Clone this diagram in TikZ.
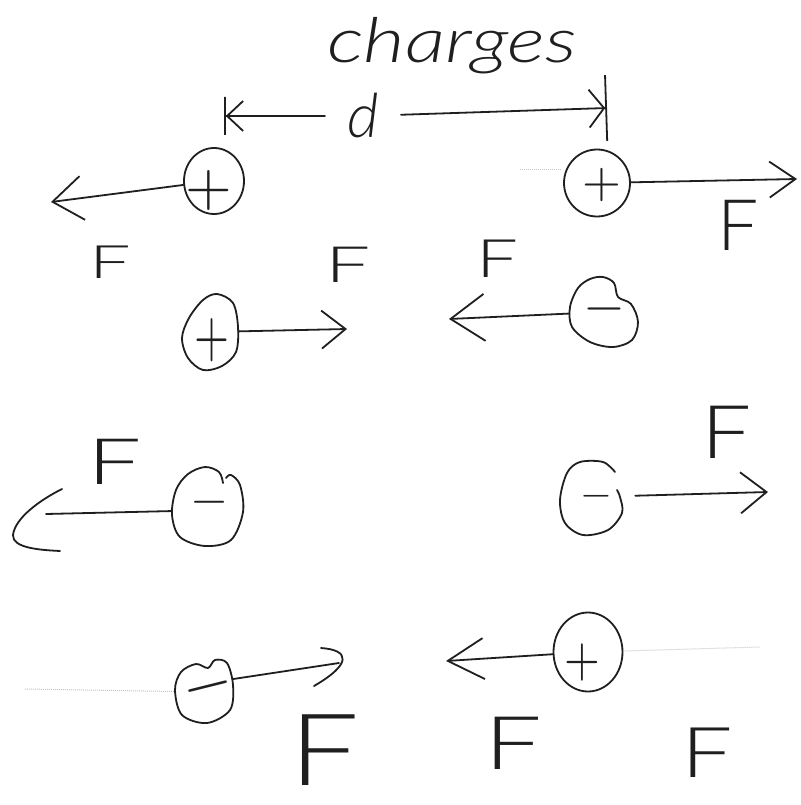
\documentclass[tikz,border=0pt]{standalone}
\usepackage{fontspec}
\IfFontExistsTF{Lato Light}{\newfontfamily\handfont{Lato Light}}{\newfontfamily\handfont{Lato}}
\usetikzlibrary{arrows.meta,shapes.geometric}
\definecolor{inkc}{gray}{0.12}
\tikzset{
  ink/.style={draw=inkc, line width=1.8pt, line cap=round, line join=round},
  charge/.style={ellipse, inner sep=0pt, ink},
  spot/.style={ellipse, inner sep=0pt},
  sign/.style={inner sep=0pt, text=inkc},
  force/.style 2 args={ink, -{Straight Barb[length=#1pt,width=#2pt]}},
  dimleft/.style={ink, -{Straight Barb[length=16pt,width=30pt]Bar[width=38pt]}},
  dimright/.style={ink, -{Straight Barb[length=15pt,width=38pt]Bar[width=66pt]}},
  flabel/.style={inner sep=0pt, text=inkc, font=\handfont\fontsize{#1}{#1}\selectfont},
  faint/.style={draw=gray!45, line width=1pt, densely dotted},
}
\begin{document}
\begin{tikzpicture}[x=1pt,y=-1pt]
\fill[white] (0,0) rectangle (800,805);
\useasboundingbox (0,0) rectangle (800,805);

% title and distance
\node[inner sep=0pt, anchor=base, text=inkc, font=\handfont\itshape\fontsize{62}{62}\selectfont] (title) at (452,63) {\scalebox{1.3}[1]{charges}};
\node[inner xsep=22pt, inner ysep=0pt, anchor=base, text=inkc, font=\handfont\itshape\fontsize{61}{61}\selectfont] (dlab) at (363,138) {d};
\coordinate (dL) at (224,116);
\coordinate (dR) at (607,108);
\draw[dimleft] (dlab) -- (dL);
\draw[dimright] (dlab) -- (dR);

% row 1
\node[charge, minimum width=60pt, minimum height=66pt] (qA) at (214,181) {};
\node[sign] (sA) at (209,190) {\scalebox{6}{$+$}};
\coordinate (tA) at (51,202);
\draw[force={30}{44}] (qA) -- (tA);
\node[flabel=46] (F1) at (110,262) {\scalebox{1.6}[1]{F}};

\coordinate (fb1) at (520,170);
\coordinate (fb2) at (562,170);
\draw[faint] (fb1) -- (fb2);
\node[charge, minimum width=66pt, minimum height=67pt] (qB) at (597,183) {};
\node[sign] (sB) at (602,185) {\scalebox{5}{$+$}};
\coordinate (tB) at (797,179);
\draw[force={26}{36}] (qB) -- (tB);
\node[flabel=71] (F2) at (738,225) {\scalebox{1.03}[1]{F}};

% row 2
\node[spot, minimum width=56pt, minimum height=74pt] (qC) at (210,332) {};
\draw[ink] plot[smooth cycle, tension=0.55] coordinates {(217,294) (233,303) (238,327) (236,352) (222,366) (203,370) (188,358) (182,338) (189,318) (203,300)};
\node[sign] (sC) at (212,340) {\scalebox{4.5}[6.5]{$+$}};
\coordinate (tC) at (347,329);
\draw[force={24}{38}] (qC) -- (tC);
\node[flabel=50] (F3) at (348,265) {\scalebox{1.6}[1]{F}};

\node[spot, minimum width=69pt, minimum height=71pt] (qD) at (604,312) {};
\draw[ink] plot[smooth cycle, tension=0.55] coordinates {(603,277) (614,283) (618,297) (631,304) (638,322) (632,340) (613,347) (590,342) (572,327) (570,307) (578,288) (590,279)};
\node[sign] (sD) at (604,309) {\scalebox{5.4}{$-$}};
\coordinate (tD) at (449,319);
\draw[force={34}{47}] (qD) -- (tD);
\node[flabel=53] (F4) at (497,259) {\scalebox{1.4}[1]{F}};

% row 3
\node[spot, minimum width=72pt, minimum height=80pt] (qE) at (208,506) {};
\draw[ink] plot[smooth, tension=0.55] coordinates {(223,483) (219,472) (205,467) (188,474) (176,490) (172,515) (180,537) (205,546) (231,540) (243,512) (240,485) (231,475) (226,478)};
\node[sign] (sE) at (210,502) {\scalebox{4.9}{$-$}};
\coordinate (tE) at (46,514);
\draw[ink] (qE.188) -- (tE);
\coordinate (eh1) at (62,489);
\coordinate (eh2) at (13,535);
\coordinate (eh3) at (60,551);
\draw[ink] (eh1) .. controls (40,500) and (15,518) .. (eh2) .. controls (12,548) and (40,550) .. (eh3);
\node[flabel=64] (F5) at (115,462) {\scalebox{1.5}[1]{F}};

\node[spot, minimum width=90pt, minimum height=76pt] (qF) at (590,497) {};
\draw[ink] plot[smooth, tension=0.55] coordinates {(615,472) (603,462) (580,462) (567,473) (560,500) (565,523) (583,535) (608,530) (622,513) (620,497) (617,490)};
\node[sign] (sF) at (596,496) {\scalebox{4.1}{$-$}};
\coordinate (tF) at (768,492);
\draw[force={26}{41}] (qF) -- (tF);
\node[flabel=74] (F6) at (727,432) {\scalebox{1.2}[1]{F}};

% row 4
\coordinate (fl) at (25,689);
\node[spot, minimum width=60pt, minimum height=64pt] (qG) at (205,692) {};
\draw[faint] (fl) -- (qG);
\draw[ink] plot[smooth cycle, tension=0.55] coordinates {(208,668) (215,660) (227,663) (233,685) (230,710) (207,723) (182,715) (175,690) (181,672) (196,664)};
\node[sign, rotate=14] (sG) at (208,687) {\scalebox{6.5}{$-$}};
\coordinate (tG) at (339,663);
\draw[ink] (qG.25) -- (tG);
\coordinate (gh1) at (321,648);
\coordinate (gh2) at (314,686);
\draw[ink] (gh1) .. controls (350,650) and (352,664) .. (gh2);
\node[flabel=100] (F7) at (324,750) {\scalebox{1.24}[1]{F}};

\node[charge, minimum width=69pt, minimum height=79pt] (qH) at (588,652) {};
\coordinate (fr) at (760,647);
\draw[faint] (qH) -- (fr);
\node[sign] (sH) at (582,662) {\scalebox{4.6}[5.6]{$+$}};
\coordinate (tH) at (446,661);
\draw[force={36}{41}] (qH) -- (tH);
\node[flabel=74] (F8) at (513,743) {\scalebox{1.38}[1]{F}};
\node[flabel=70] (F9) at (707,753) {\scalebox{1.3}[1]{F}};
\end{tikzpicture}
\end{document}
